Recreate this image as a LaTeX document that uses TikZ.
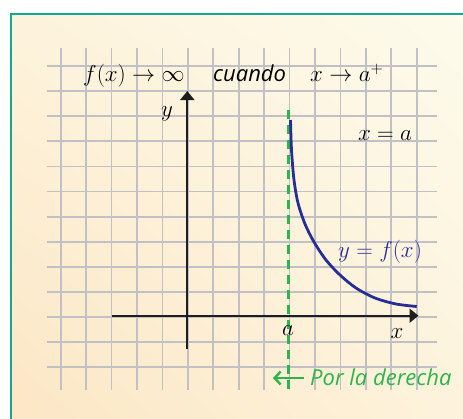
\RequirePackage{fix-cm}
\documentclass[tikz,border=0pt]{standalone}
\usepackage{fontspec}
\newfontfamily\sansit{Open Sans}
\usetikzlibrary{arrows.meta,shadings}
\definecolor{frameteal}{RGB}{22,166,150}
\definecolor{bgpeach}{RGB}{252,230,196}
\definecolor{bgmid}{RGB}{253,243,220}
\definecolor{bgpale}{RGB}{253,251,236}
\definecolor{gridgray}{RGB}{192,192,197}
\definecolor{axisblack}{RGB}{30,30,30}
\definecolor{curveblue}{RGB}{40,45,150}
\definecolor{dashgreen}{RGB}{45,180,75}
\tikzset{
  gridline/.style={gridgray, line width=1.8pt},
  axisline/.style={axisblack, line width=2pt},
  axisarrow/.style={axisline, -{Triangle[length=9pt,width=14pt]}},
  curveline/.style={curveblue, line width=2.8pt},
  asymptote/.style={dashgreen, line width=2.6pt, dash pattern=on 9pt off 6pt},
  mathlbl/.style={inner sep=0pt, font=\fontsize{23}{27}\selectfont},
  sanslbl/.style={inner sep=0pt, font=\fontsize{22}{26}\selectfont\sansit\itshape}
}
\begin{document}
\begin{tikzpicture}[x=1pt,y=-1pt]
\useasboundingbox (0,0) rectangle (463,418);
\clip (0,0) rectangle (463,418);
\fill[white] (0,0) rectangle (463,418);
\shade[lower left=bgpeach, upper right=bgpale, upper left=bgmid, lower right=bgmid] (11,14) rectangle (480,440);
\draw[frameteal, line width=2.6pt] (11,440) -- (11,14) -- (480,14);
% grid
\foreach \i in {0,...,14} {
  \draw[gridline] (60.7+25.43*\i,47.7) -- (60.7+25.43*\i,390);
}
\foreach \j in {0,...,12} {
  \draw[gridline] (46.7,66+25.1*\j) -- (437.3,66+25.1*\j);
}
% axes
\coordinate (xl) at (111.7,315.7);
\coordinate (xr) at (418.5,315.7);
\coordinate (yb) at (187.3,348.5);
\coordinate (yt) at (187.3,91);
\draw[axisarrow] (xl) -- (xr);
\draw[axisarrow] (yb) -- (yt);
% asymptote
\coordinate (at) at (288.3,110);
\coordinate (ab) at (288.3,390);
\draw[asymptote] (at) -- (ab);
% curve
\draw[curveline, line cap=butt] plot[smooth, tension=0.5] coordinates {
  (290.5,120) (291.5,150) (294,180) (298,203) (305,224) (314,242) (326,260)
  (340,275) (356,288) (375,298) (396,304) (416.7,306.5)};
% labels
\node[mathlbl, anchor=base west] (top1) at (83,81.7) {$f(x)\rightarrow\infty$};
\node[sanslbl, anchor=base west] (top2) at (213,81.7) {cuando};
\node[mathlbl, anchor=base west] (top3) at (310,81.7) {$x\rightarrow a^{+}$};
\node[mathlbl, anchor=base] (ylbl) at (167,116.7) {$y$};
\node[mathlbl, anchor=base] (xeqa) at (385,140) {$x=a$};
\node[mathlbl, anchor=base, text=curveblue] (yfx) at (380,257) {$y=f(x)$};
\node[mathlbl, anchor=base] (albl) at (288,335) {$a$};
\node[mathlbl, anchor=base] (xlbl) at (397,338) {$x$};
\node[sanslbl, anchor=base west, text=dashgreen] (por) at (310,385.5) {Por la derecha};
\coordinate (arrs) at (303.5,378);
\coordinate (arre) at (273,378);
\draw[dashgreen, line width=2.4pt, -{Straight Barb[length=6pt,width=13pt]}] (arrs) -- (arre);
\end{tikzpicture}
\end{document}
